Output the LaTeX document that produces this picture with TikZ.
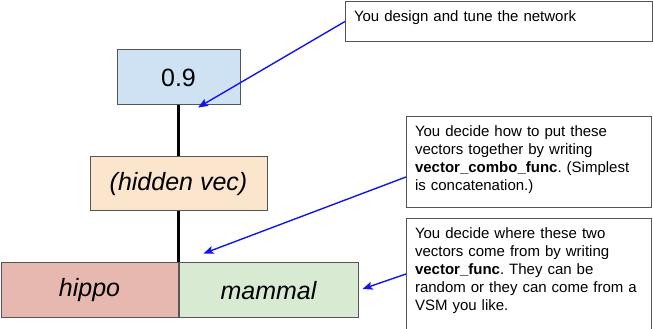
\documentclass[tikz,border=0pt]{standalone}
\usepackage{fontspec}
\setmainfont{Liberation Sans}
\usetikzlibrary{arrows.meta, positioning}
\frenchspacing
\definecolor{edgegray}{RGB}{85,85,85}
\definecolor{outbg}{RGB}{207,226,243}
\definecolor{hiddenbg}{RGB}{252,229,205}
\definecolor{wordbg}{RGB}{230,184,175}
\definecolor{contextbg}{RGB}{217,234,211}
\definecolor{pointerblue}{RGB}{20,20,240}
\tikzstyle{block} = [draw=edgegray, line width=1pt, rectangle, inner sep=0pt,
    font=\fontsize{25}{30}\selectfont]
\tikzstyle{callout} = [draw=edgegray, line width=1pt, rectangle, anchor=north west,
    inner xsep=8.5pt, inner ysep=9pt, align=left, text height=11pt,
    font=\fontsize{15}{18}\selectfont]
\tikzstyle{link} = [draw, black, line width=2.4pt]
\tikzstyle{pointer} = [-{Stealth[length=10pt, width=8pt, inset=2pt]}, pointerblue,
    line width=1.4pt]

\begin{document}
\begin{tikzpicture}[x=1pt, y=1pt]
  \useasboundingbox (0,0) rectangle (653,329);
  \clip (0,0) rectangle (653,329);

  % Place the blocks
  \node [block, fill=wordbg, minimum width=177pt, minimum height=55pt]
    (hippo) at (89.5,38.5) {\itshape hippo};
  \node [block, fill=contextbg, minimum width=179pt, minimum height=55pt,
    right=0pt of hippo] (mammal) {\itshape mammal};
  \node [block, fill=hiddenbg, minimum width=177pt, minimum height=54pt,
    above=51pt of hippo.north east] (hidden) {\itshape (hidden vec)};
  \node [block, fill=outbg, minimum width=123pt, minimum height=55pt,
    above=51pt of hidden] (out) {0.9};

  % Place the notes
  \node [callout, text width=290pt, text depth=11pt] (design) at (345,328)
    {You design and tune the network};
  \node [callout, text width=228pt, text depth=62pt] (combo) at (406,213)
    {You decide how to put these\\
     vectors together by writing\\
     \textbf{vector\_combo\_func}. (Simplest\\
     is concatenation.)};
  \node [callout, text width=228pt, text depth=130pt] (source) at (406,111)
    {You decide where these two\\
     vectors come from by writing\\
     \textbf{vector\_func}. They can be\\
     random or they can come from a\\
     VSM you like.};

  \coordinate (tipA) at ([shift={(19.5pt,-2pt)}]out.south);
  \coordinate (tipB) at ([shift={(25pt,9pt)}]hippo.north east);
  \coordinate (tipC) at ([shift={(4pt,1.5pt)}]mammal.east);

  % Connect the nodes
  \draw [link] (out) -- (hidden);
  \draw [link] (hidden.south) -- (hippo.north east);
  \draw [pointer] (design.west) -- (tipA);
  \draw [pointer] ([yshift=-61pt]combo.north west) -- (tipB);
  \draw [pointer] ([yshift=-56pt]source.north west) -- (tipC);
\end{tikzpicture}
\end{document}
